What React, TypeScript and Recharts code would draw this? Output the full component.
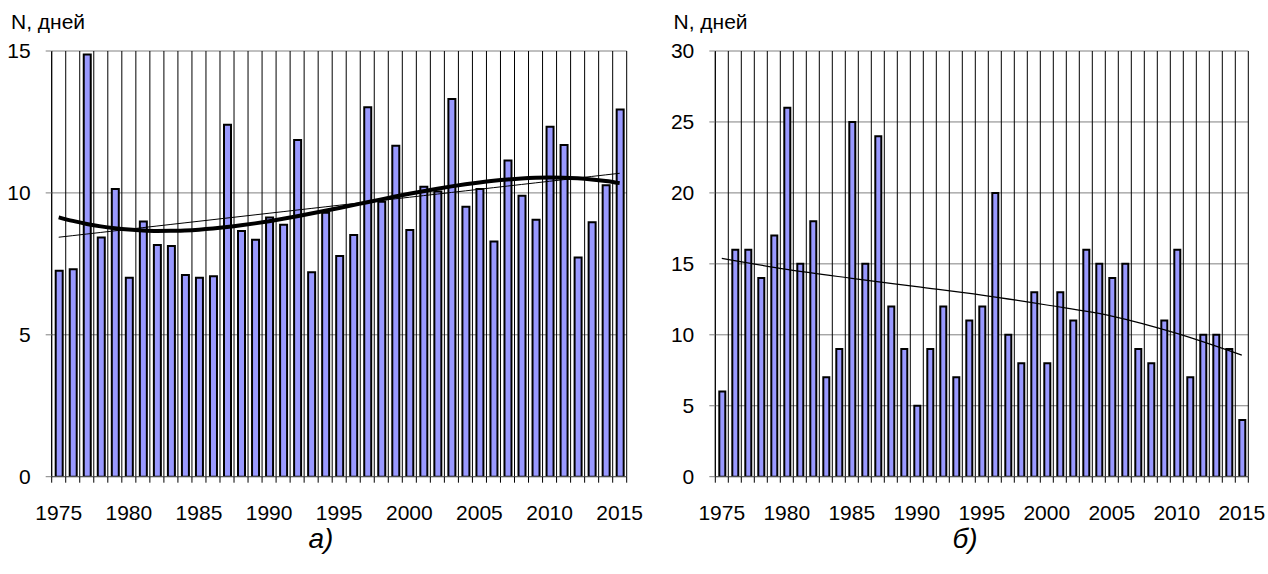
import React from "react";
import { Bar, CartesianGrid, ComposedChart, Line, XAxis, YAxis } from "recharts";

const years = Array.from({ length: 41 }, (_, i) => 1975 + i);

// а) число дней, левая панель
const daysA = [
  7.26, 7.31, 14.88, 8.43, 10.14, 7.01, 8.99, 8.16, 8.13, 7.11, 7.01, 7.06, 12.4, 8.66, 8.35, 9.13, 8.88,
  11.86, 7.2, 9.3, 7.78, 8.52, 13.02, 9.69, 11.66, 8.69, 10.22, 10.05, 13.31, 9.51, 10.14, 8.29, 11.14,
  9.9, 9.05, 12.33, 11.69, 7.72, 8.97, 10.27, 12.94,
];

// б) число дней, правая панель
const daysB = [
  6, 16, 16, 14, 17, 26, 15, 18, 7, 9, 25, 15, 24, 12, 9, 5, 9, 12, 7, 11, 12, 20, 10, 8, 13, 8, 13, 11,
  16, 15, 14, 15, 9, 8, 11, 16, 7, 10, 10, 9, 4,
];

// тренд на панели б), снятый с рисунка через каждые 5 лет
const trendYearsB = [1975, 1980, 1985, 1990, 1995, 2000, 2005, 2010, 2015];
const trendB = [15.39, 14.61, 13.98, 13.39, 12.8, 12.1, 11.32, 10.1, 8.57];

const ticksA = [0, 5, 10, 15];
const ticksB = [0, 5, 10, 15, 20, 25, 30];

const FONT = "'Liberation Sans', Arial, sans-serif";

function polyFit(xs: number[], ys: number[], degree: number): number[] {
  const n = degree + 1;
  const m = Array.from({ length: n }, () => new Array(n + 1).fill(0));
  xs.forEach((x, k) => {
    for (let i = 0; i < n; i++) {
      for (let j = 0; j < n; j++) m[i][j] += Math.pow(x, i + j);
      m[i][n] += ys[k] * Math.pow(x, i);
    }
  });
  for (let c = 0; c < n; c++) {
    let p = c;
    for (let r = c + 1; r < n; r++) if (Math.abs(m[r][c]) > Math.abs(m[p][c])) p = r;
    [m[c], m[p]] = [m[p], m[c]];
    for (let r = 0; r < n; r++) {
      if (r === c) continue;
      const f = m[r][c] / m[c][c];
      for (let k = c; k <= n; k++) m[r][k] -= f * m[c][k];
    }
  }
  return m.map((row, i) => row[n] / row[i]);
}

const evalPoly = (coef: number[], x: number) => coef.reduce((s, c, i) => s + c * Math.pow(x, i), 0);

const tNorm = years.map((y) => (y - 1995) / 20);
const linA = polyFit(tNorm, daysA, 1);
const cubA = polyFit(tNorm, daysA, 3);

const dataA = years.map((year, i) => ({
  year,
  value: daysA[i],
  linear: evalPoly(linA, tNorm[i]),
  poly: evalPoly(cubA, tNorm[i]),
}));

const dataB = years.map((year, i) => {
  const k = trendYearsB.indexOf(year);
  return { year, value: daysB[i], trend: k >= 0 ? trendB[k] : null };
});

function YearTick({ x, y, payload, band, last }: any) {
  const year = payload.value as number;
  const bx = x - band / 2;
  return (
    <g>
      <line x1={bx} y1={y} x2={bx} y2={y + 6} stroke="#000" />
      {year === last ? <line x1={x + band / 2} y1={y} x2={x + band / 2} y2={y + 6} stroke="#000" /> : null}
      {year % 5 === 0 ? (
        <text x={x} y={y + 43} textAnchor="middle" fontSize={21} fontFamily={FONT} fill="#000">
          {year}
        </text>
      ) : null}
    </g>
  );
}

type PanelProps = {
  data: any[];
  left: number;
  width: number;
  plotLeft: number;
  plotRight: number;
  max: number;
  ticks: number[];
  barSize: number;
  children?: React.ReactNode;
};

function Panel({ data, left, width, plotLeft, plotRight, max, ticks, barSize, children }: PanelProps) {
  const top = 51;
  const bottom = 476.7;
  const height = 574;
  const band = (plotRight - plotLeft) / data.length;
  return (
    <div style={{ position: "absolute", left, top: 0 }}>
      <ComposedChart
        width={width}
        height={height}
        data={data}
        margin={{ top, right: width - (plotRight - left), left: 0, bottom: 0 }}
        barCategoryGap={0}
      >
        <CartesianGrid horizontal={true} vertical={false} stroke="#808080" />
        <CartesianGrid
          horizontal={false}
          stroke="#000"
          verticalCoordinatesGenerator={({ offset }: any) =>
            Array.from({ length: data.length + 1 }, (_, i) => offset.left + (i * offset.width) / data.length)
          }
        />
        <XAxis
          dataKey="year"
          interval={0}
          height={height - bottom}
          tickSize={0}
          tickMargin={0}
          axisLine={{ stroke: "#555" }}
          tick={<YearTick band={band} last={data[data.length - 1].year} />}
        />
        <YAxis
          domain={[0, max]}
          ticks={ticks}
          width={plotLeft - left}
          tickSize={6}
          tickMargin={15}
          axisLine={{ stroke: "#000" }}
          tickLine={{ stroke: "#808080" }}
          tick={{ fill: "#000", fontSize: 21, fontFamily: FONT }}
          allowDataOverflow
        />
        <Bar dataKey="value" fill="#9999ff" stroke="#000" strokeWidth={2} barSize={barSize} isAnimationActive={false} />
        {children}
      </ComposedChart>
    </div>
  );
}

export default function App() {
  return (
    <div style={{ position: "absolute", left: 0, top: 0, width: 1268, height: 574, background: "#fff" }}>
      <Panel data={dataA} left={0} width={665} plotLeft={51.7} plotRight={626.7} max={15} ticks={ticksA} barSize={7}>
        <Line dataKey="linear" type="linear" stroke="#000" strokeWidth={1} dot={false} isAnimationActive={false} />
        <Line dataKey="poly" type="monotone" stroke="#000" strokeWidth={4} dot={false} isAnimationActive={false} />
      </Panel>
      <Panel data={dataB} left={640} width={628} plotLeft={715.3} plotRight={1248.3} max={30} ticks={ticksB} barSize={6}>
        <Line
          dataKey="trend"
          type="monotone"
          connectNulls
          stroke="#000"
          strokeWidth={1.2}
          dot={false}
          isAnimationActive={false}
        />
      </Panel>
      <svg width={1268} height={574} style={{ position: "absolute", left: 0, top: 0, pointerEvents: "none" }}>
        <text x={11} y={29} fontSize={21} fontFamily={FONT} fill="#000">
          N, дней
        </text>
        <text x={673.5} y={29} fontSize={21} fontFamily={FONT} fill="#000">
          N, дней
        </text>
        <text x={321} y={548} fontSize={28} fontStyle="italic" textAnchor="middle" fontFamily={FONT} fill="#000">
          а)
        </text>
        <text x={965} y={548} fontSize={28} fontStyle="italic" textAnchor="middle" fontFamily={FONT} fill="#000">
          б)
        </text>
      </svg>
    </div>
  );
}
